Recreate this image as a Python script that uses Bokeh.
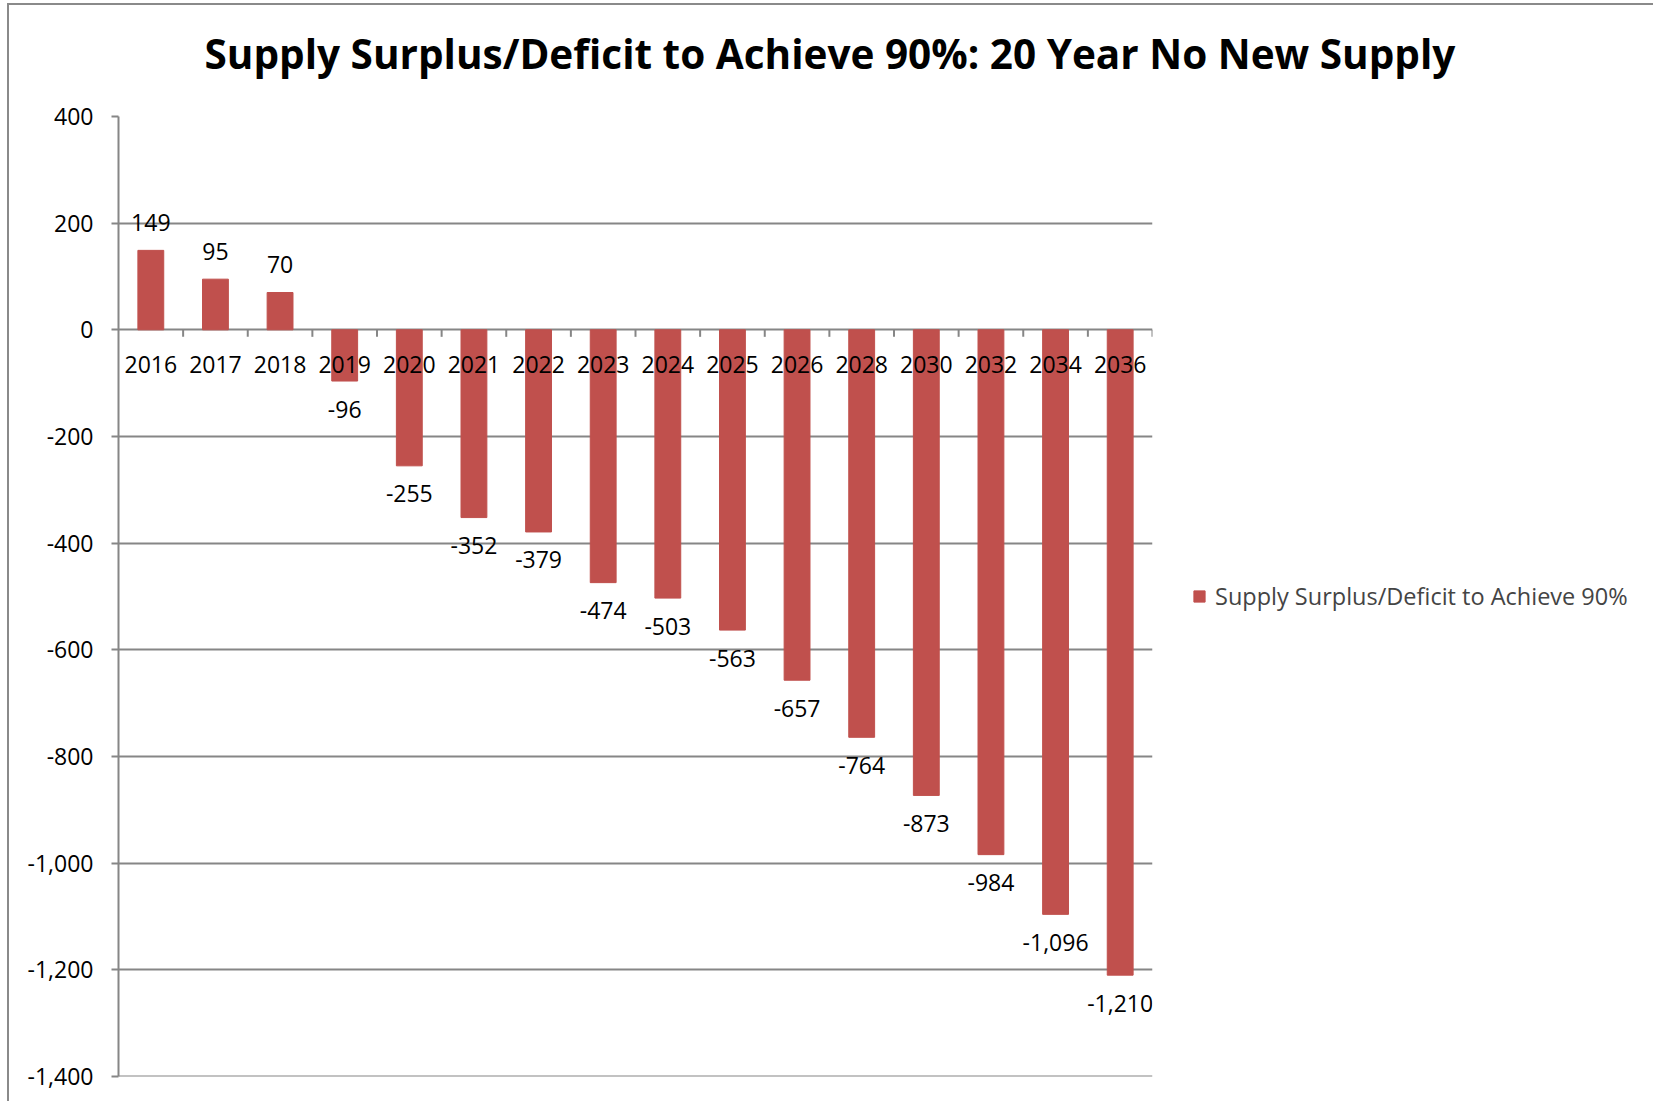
from bokeh.plotting import figure
from bokeh.models import (ColumnDataSource, FactorRange, Range1d, FixedTicker,
                          NumeralTickFormatter, Legend, LegendItem, Span)
from bokeh.core.properties import value
from bokeh.embed import file_html
from bokeh.resources import INLINE

# ---- data ----
years = ["2016", "2017", "2018", "2019", "2020", "2021", "2022", "2023",
         "2024", "2025", "2026", "2028", "2030", "2032", "2034", "2036"]
surplus = [149, 95, 70, -96, -255, -352, -379, -474, -503, -563, -657,
           -764, -873, -984, -1096, -1210]
y_ticks = [-1400, -1200, -1000, -800, -600, -400, -200, 0, 200, 400]
series_name = "Supply Surplus/Deficit to Achieve 90%"
title_text = "Supply Surplus/Deficit to Achieve 90%: 20 Year No New Supply"

# ---- style ----
BAR = "#C0504D"
GRID = "#868686"
FONT = "Open Sans"
FS = "23px"

OX, OY = 9, 5                 # canvas origin on page (after margin + border)
FL, FT, FW, FH = 118, 116, 1034, 960

src = ColumnDataSource(dict(
    year=years,
    val=surplus,
    zero=[0] * len(years),
    lab=[f"{v:,}" for v in surplus],
    loff=[-28 if v > 0 else 28 for v in surplus],
))

p = figure(x_range=FactorRange(*years), y_range=Range1d(y_ticks[0], y_ticks[-1]),
           frame_width=FW, frame_height=FH, title=title_text,
           min_border_left=FL - OX, min_border_top=FT - OY,
           min_border_right=1653 - OX - (FL + FW), min_border_bottom=1106 - OY - (FT + FH),
           x_axis_location=None, output_backend="svg", toolbar_location=None,
           margin=(3, 0, 0, 7),
           styles={"border-left": "2px solid #8a8a8a", "border-top": "2px solid #8a8a8a"})
p.outline_line_color = None
p.xgrid.visible = False
p.ygrid.grid_line_color = GRID
p.ygrid.grid_line_width = 2
p.ygrid.ticker = FixedTicker(ticks=y_ticks)

p.title.align = "left"
p.title.offset = 86
p.title.text_font = FONT
p.title.text_font_size = "40.5px"
p.title.text_font_style = "bold"
p.title.text_color = "black"
p.title.standoff = 10
p.title.padding = dict(left=0, right=0, top=0, bottom=31)

ax = p.yaxis[0]
ax.ticker = FixedTicker(ticks=y_ticks)
ax.formatter = NumeralTickFormatter(format="0,0")
ax.axis_line_color = GRID
ax.axis_line_width = 2
ax.major_tick_line_color = GRID
ax.major_tick_line_width = 2
ax.major_tick_in = 0
ax.major_tick_out = 7
ax.minor_tick_line_color = None
ax.major_label_standoff = 18
ax.major_label_text_font = FONT
ax.major_label_text_font_size = FS
ax.major_label_text_color = "black"

# bottom gridline at the range start
p.add_layout(Span(location=y_ticks[0], dimension="width", line_color=GRID, line_width=2))

bars = p.vbar(x="year", top="val", bottom=0, width=0.4, source=src,
              fill_color=BAR, line_color=BAR)

# category-boundary tick marks on the zero line
units_per_px = (y_ticks[-1] - y_ticks[0]) / FH
bounds = list(range(1, len(years) + 1))
p.segment(x0=bounds, y0=[0] * len(bounds), x1=bounds, y1=[-7 * units_per_px] * len(bounds),
          line_color=GRID, line_width=2)

# year labels just below the zero line
p.text(x="year", y="zero", text="year", source=src, y_offset=35,
       text_font=value(FONT), text_font_size=value(FS), text_color="black",
       text_align="center", text_baseline="middle")

# data labels
p.text(x="year", y="val", text="lab", source=src, y_offset="loff",
       text_font=value(FONT), text_font_size=value(FS), text_color="black",
       text_align="center", text_baseline="middle")

legend = Legend(items=[LegendItem(label=series_name, renderers=[bars])],
                location="center_left", margin=40, padding=10,
                glyph_width=14, glyph_height=14, label_standoff=9,
                label_text_font=FONT, label_text_font_size="23.5px",
                border_line_color=None, background_fill_alpha=0)
p.add_layout(legend, "right")

open("out.html", "w").write(file_html(p, INLINE))
